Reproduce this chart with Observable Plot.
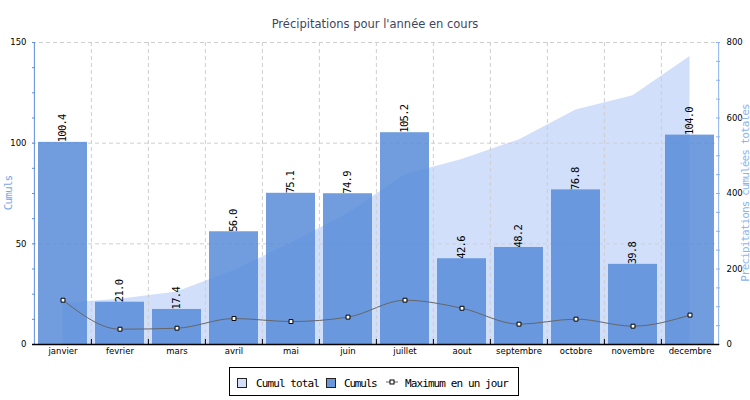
<!DOCTYPE html>
<html><head><meta charset="utf-8">
<script src="https://cdn.jsdelivr.net/npm/d3@7"></script>
<script src="https://cdn.jsdelivr.net/npm/@observablehq/plot@0.6"></script>
<style>
body{margin:0;background:#fff}
#wrap{position:relative;width:750px;height:400px;overflow:hidden;background:#fff}
#chart{position:absolute;left:0;top:0}
.t{position:absolute;white-space:nowrap;line-height:1}
.mono{font-family:"DejaVu Sans Mono",monospace;font-size:11px;letter-spacing:-0.9px}
.rot{transform:translate(-50%,-50%) rotate(-90deg)}
#title{left:375px;top:25px;transform:translate(-50%,-50%);font-family:"DejaVu Sans",sans-serif;font-size:11.5px;color:#3d4661}
#ylab{left:8px;top:193px;color:#7aa6ec}
#y2lab{left:745px;top:193px;color:#8db4f0}
#legend{position:absolute;left:229px;top:367px;width:290px;height:29px;border:1px solid #000;background:#fff;box-sizing:border-box}
.sw{position:absolute;width:8px;height:8px;border:1px solid #222;top:10px}
.lt{position:absolute;top:9px}
g[aria-label="text"] text{letter-spacing:-0.7px}
</style></head>
<body><div id="wrap"><div id="chart"></div>
<div class="t" id="title">Précipitations pour l'année en cours</div>
<div class="t mono rot" id="ylab">Cumuls</div>
<div class="t mono rot" id="y2lab">Précipitations cumulées totales</div>
<div id="legend">
  <div class="sw" style="left:7px;background:#d1dffa"></div>
  <div class="lt mono" style="left:26px">Cumul total</div>
  <div class="sw" style="left:96px;background:#6a96da"></div>
  <div class="lt mono" style="left:114px;letter-spacing:-1.2px">Cumuls</div>
  <svg style="position:absolute;left:155px;top:8px" width="14" height="12"><line x1="1" y1="6" x2="13" y2="6" stroke="#666" stroke-width="1"/><rect x="5" y="4" width="4" height="4" fill="#fff" stroke="#000" stroke-width="1"/></svg>
  <div class="lt mono" style="left:175px">Maximum en un jour</div>
</div>
</div>
<script>
const months = ["janvier","fevrier","mars","avril","mai","juin","juillet","aout","septembre","octobre","novembre","decembre"];
const cumuls = [100.4,21.0,17.4,56.0,75.1,74.9,105.2,42.6,48.2,76.8,39.8,104.0];
const cumulTotal = [109,120,139,196,268,347,450,490,542,621,659,763];
const maxJour = [22.0,7.6,8.1,12.9,11.4,13.6,22.0,18.0,10.1,12.6,9.1,14.6];
const leftTicks = [0,50,100,150];
const leftMinorTicks = [0,12.5,25,37.5,50,62.5,75,87.5,100,112.5,125,137.5,150];
const rightTicks = [0,200,400,600,800];
const rightMinorTicks = [0,50,100,150,200,250,300,350,400,450,500,550,600,650,700,750,800];
const leftMax = 150, rightMax = 800;

const W = 750, H = 400, mL = 32, mR = 31, mT = 42, mB = 56;
const bw = (W - mL - mR) / months.length;
const plotH = H - mT - mB;
const toLeft = v => v * leftMax / rightMax;
const rows = months.map((m, i) => ({month: m, cumul: cumuls[i], total: cumulTotal[i], max: maxJour[i]}));
const grid = "#cfcfcf", leftBlue = "#5f8edf", rightBlue = "#8db3f2";

const chart = Plot.plot({
  width: W, height: H,
  marginLeft: mL, marginRight: mR, marginTop: mT, marginBottom: mB,
  style: {fontFamily: "DejaVu Sans", fontSize: "8.5px", background: "transparent", color: "black"},
  x: {type: "band", domain: months, padding: 0, label: null},
  y: {domain: [0, leftMax], label: null},
  marks: [
    Plot.areaY(rows, {x: "month", y: d => toLeft(d.total), fill: "#d1dffa", curve: "linear"}),
    Plot.ruleY([50, 100, 150], {stroke: grid, strokeDasharray: "4,3"}),
    Plot.ruleX(months.slice(1), {x: d => d, dx: -bw / 2, stroke: grid, strokeDasharray: "4,3"}),
    Plot.barY(rows, {x: "month", y: "cumul", fill: "#5489d9", fillOpacity: 0.83, insetLeft: 4, insetRight: 4}),
    Plot.line(rows, {x: "month", y: "max", stroke: "#666", strokeWidth: 1, curve: "monotone-x"}),
    Plot.dot(rows, {x: "month", y: "max", symbol: "square", r: 2.2, fill: "white", stroke: "black", strokeWidth: 1}),
    Plot.text(rows, {x: "month", y: "cumul", text: d => d.cumul.toFixed(1), rotate: -90, textAnchor: "start", lineAnchor: "middle", fontFamily: "DejaVu Sans Mono", fontSize: 10.5, fill: "black"}),
    Plot.ruleX([months[0]], {x: d => d, dx: -bw / 2, stroke: leftBlue, strokeWidth: 1}),
    Plot.ruleX([months[months.length - 1]], {x: d => d, dx: bw / 2, stroke: rightBlue, strokeWidth: 1}),
    Plot.axisY(leftMinorTicks, {anchor: "left", tickSize: 3, dx: 3, tickFormat: () => "", stroke: leftBlue, label: null}),
    Plot.axisY(leftTicks, {anchor: "left", tickSize: 0, tickPadding: 6, fontSize: 8.5, label: null}),
    Plot.axisY(rightMinorTicks.map(toLeft), {anchor: "right", tickSize: 4, dx: -4, tickFormat: () => "", stroke: rightBlue, label: null}),
    Plot.axisY(rightTicks.map(toLeft), {anchor: "right", tickSize: 0, tickPadding: 7, fontSize: 8.5, tickFormat: d => String(Math.round(d * rightMax / leftMax)), label: null}),
    Plot.axisX({tickSize: 0, tickPadding: 3, fontSize: 8.5, label: null}),
    Plot.ruleY([0], {stroke: "black", strokeWidth: 1.5}),
    Plot.ruleX(months.slice(1), {x: d => d, dx: -bw / 2, stroke: "black", insetTop: plotH - 5, insetBottom: 0})
  ]
});
document.getElementById("chart").appendChild(chart);
</script>
</body></html>
